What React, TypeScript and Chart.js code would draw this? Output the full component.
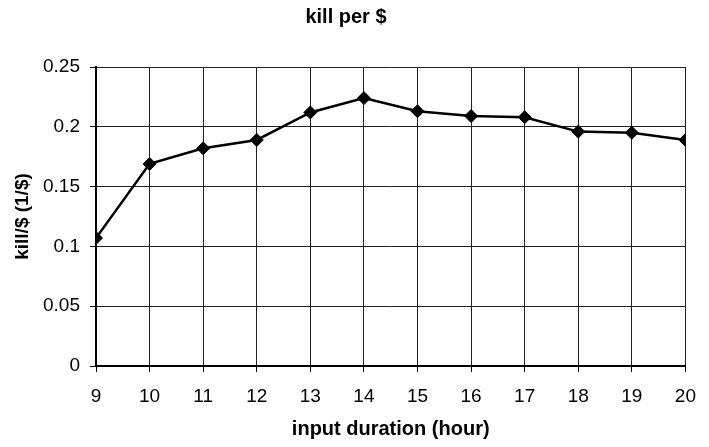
import React, { useEffect, useRef } from "react";
import { Chart, registerables } from "chart.js";

Chart.register(...registerables);

const hours = [9, 10, 11, 12, 13, 14, 15, 16, 17, 18, 19, 20];
const killPerDollar = [0.107, 0.169, 0.182, 0.189, 0.212, 0.224, 0.213, 0.209, 0.208, 0.196, 0.195, 0.189];
const yTicks = [0, 0.05, 0.1, 0.15, 0.2, 0.25];

const FONT = "'Liberation Sans', Arial, sans-serif";

export default function App() {
  const ref = useRef<HTMLCanvasElement | null>(null);

  useEffect(() => {
    document.body.style.margin = "0";
    const canvas = ref.current;
    if (!canvas) return;
    const chart = new Chart(canvas, {
      type: "line",
      data: {
        datasets: [
          {
            label: "kill per $",
            data: hours.map((h, i) => ({ x: h, y: killPerDollar[i] })),
            borderColor: "#000",
            backgroundColor: "#000",
            borderWidth: 2.5,
            pointStyle: "rectRot",
            pointRadius: 6.5,
            pointBorderWidth: 1,
            pointBackgroundColor: "#000",
            pointBorderColor: "#000",
            tension: 0,
          },
        ],
      },
      options: {
        animation: false,
        responsive: false,
        maintainAspectRatio: false,
        layout: { padding: { left: 0, right: 17, top: 0, bottom: 0 } },
        plugins: {
          legend: { display: false },
          tooltip: { enabled: false },
          title: {
            display: true,
            text: "kill per $",
            color: "#000",
            font: { family: FONT, size: 20, weight: "bold" },
            padding: { top: 5.5, bottom: 37.5 },
          },
        },
        scales: {
          x: {
            type: "linear",
            min: 9,
            max: 20,
            afterFit: (s: any) => {
              s.height = 81;
            },
            afterBuildTicks: (s: any) => {
              s.ticks = hours.map((h) => ({ value: h }));
            },
            ticks: {
              color: "#000",
              font: { family: FONT, size: 19 },
              padding: 13,
              maxRotation: 0,
              autoSkip: false,
              callback: (v: any) => String(v),
            },
            grid: {
              color: "#222",
              lineWidth: 1,
              tickLength: 6,
              tickColor: "#000",
            },
            border: { color: "#000", width: 2 },
            title: {
              display: true,
              text: "input duration (hour)",
              color: "#000",
              font: { family: FONT, size: 20, weight: "bold" },
              padding: { top: 0, bottom: 6 },
            },
          },
          y: {
            type: "linear",
            min: 0,
            max: 0.25,
            afterFit: (s: any) => {
              s.width = 96;
            },
            afterBuildTicks: (s: any) => {
              s.ticks = yTicks.map((v) => ({ value: v }));
            },
            ticks: {
              color: "#000",
              font: { family: FONT, size: 19 },
              padding: 10,
              callback: (v: any) => String(Math.round(Number(v) * 100) / 100),
            },
            grid: {
              color: "#222",
              lineWidth: 1,
              tickLength: 6,
              tickColor: "#000",
            },
            border: { color: "#000", width: 2 },
            title: {
              display: true,
              text: "kill/$ (1/$)",
              color: "#000",
              font: { family: FONT, size: 19, weight: "bold" },
              padding: { top: 11.5, bottom: 0 },
            },
          },
        },
      },
    });
    return () => chart.destroy();
  }, []);

  return (
    <div style={{ width: 709, height: 447, position: "relative", background: "#fff" }}>
      <canvas ref={ref} width={709} height={447} style={{ display: "block" }} />
    </div>
  );
}
